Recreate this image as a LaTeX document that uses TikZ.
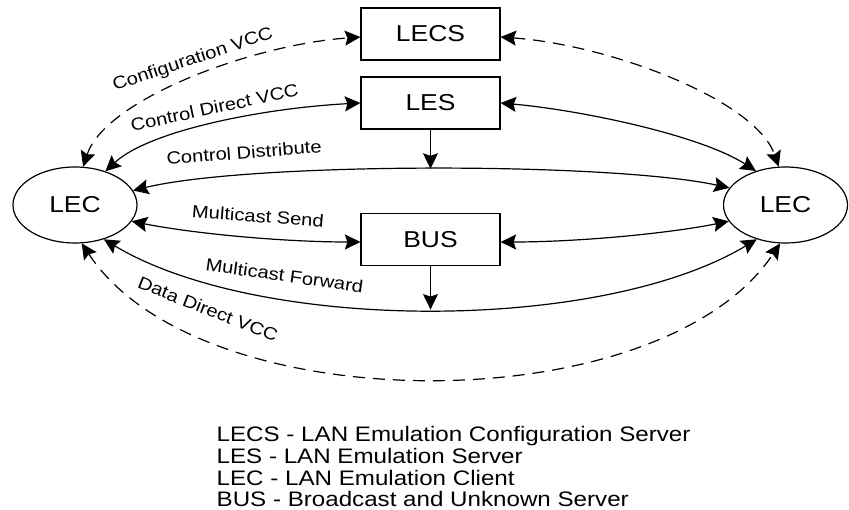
\documentclass[tikz,border=0pt]{standalone}
\usepackage{fontspec}
\setmainfont{Liberation Sans}
\usetikzlibrary{arrows.meta,shapes.geometric}
\newcommand{\wtxt}[1]{\scalebox{1.15}[1]{#1}}
\begin{document}
\begin{tikzpicture}[x=1pt,y=-1pt,
  >={Stealth[length=15.5pt,width=15pt,inset=2.5pt]},
  box/.style={draw, line width=1.2pt, minimum width=139pt, minimum height=52pt, inner sep=0pt, font=\fontsize{23}{23}\selectfont},
  lec/.style={draw, ellipse, line width=1.2pt, minimum width=124pt, minimum height=76pt, inner sep=0pt, font=\fontsize{23}{23}\selectfont},
  conn/.style={line width=1.2pt},
  dsh/.style={dash pattern=on 12pt off 8pt},
  lbl/.style={inner sep=0pt, font=\fontsize{17.5}{17.5}\selectfont},
  leg/.style={inner sep=0pt, anchor=base west, font=\fontsize{21}{21}\selectfont}
]
\useasboundingbox (0,0) rectangle (849,510);

\node[box] (lecs) at (430.5,34) {\wtxt{LECS}};
\node[box] (les) at (430.5,103) {\wtxt{LES}};
\node[box] (bus) at (430.5,239.5) {\wtxt{BUS}};
\node[lec] (lecL) at (75,205) {\wtxt{LEC}};
\node[lec] (lecR) at (785.5,205) {\wtxt{LEC}};

% Configuration VCC
\draw[conn,dsh,<->] (lecL.78) .. controls (105,100) and (250,45) .. ([yshift=-3pt]lecs.west);
\draw[conn,dsh,<->] ([yshift=-3pt]lecs.east) .. controls (610.5,45) and (755.5,100) .. (lecR.100);
% Control Direct VCC
\draw[conn,<->] (lecL.48) .. controls (150,130) and (265,108) .. (les.west);
\draw[conn,<->] (les.east) .. controls (580,110) and (700,135) .. (lecR.131);
% Control Distribute
\draw[conn,<->] (lecL.14) .. controls (250,162) and (610,162) .. (lecR.163) coordinate[pos=0.5] (cd);
\draw[conn,->] (les.south) -- (les.south |- cd);
% Multicast Send
\draw[conn,<->] (lecL.-16) .. controls (190,233) and (280,242) .. ([yshift=-2.5pt]bus.west);
\draw[conn,<->] ([yshift=-2.5pt]bus.east) .. controls (581,242) and (671,233) .. (lecR.196);
% Multicast Forward
\draw[conn,<->] (lecL.-50) .. controls (260,333) and (601,333) .. (lecR.230) coordinate[pos=0.5] (mf);
\draw[conn,->] (bus.south) -- (bus.south |- mf);
% Data Direct VCC
\draw[conn,dsh,<->] (lecL.-80) .. controls (200,423) and (660.5,423) .. (lecR.262);

% labels
\node[lbl, rotate=18.5] (tcfg) at (193,60) {\wtxt{Configuration VCC}};
\node[lbl, rotate=12] (tcdv) at (214.5,107.5) {\wtxt{Control Direct VCC}};
\node[lbl, rotate=4.5] (tcds) at (244,152.5) {\wtxt{Control Distribute}};
\node[lbl, rotate=-4.5] (tmcs) at (258,216) {\wtxt{Multicast Send}};
\node[lbl, rotate=-8] (tmcf) at (284.5,275.5) {\wtxt{Multicast Forward}};
\node[lbl, rotate=-21.5] (tddv) at (208,309) {\wtxt{Data Direct VCC}};

% legend
\node[leg] (leg1) at (216.5,442) {\wtxt{LECS - LAN Emulation Configuration Server}};
\node[leg] (leg2) at (216.5,464) {\wtxt{LES - LAN Emulation Server}};
\node[leg] (leg3) at (216.5,485.5) {\wtxt{LEC - LAN Emulation Client}};
\node[leg] (leg4) at (216.5,506.5) {\wtxt{BUS - Broadcast and Unknown Server}};
\end{tikzpicture}
\end{document}
